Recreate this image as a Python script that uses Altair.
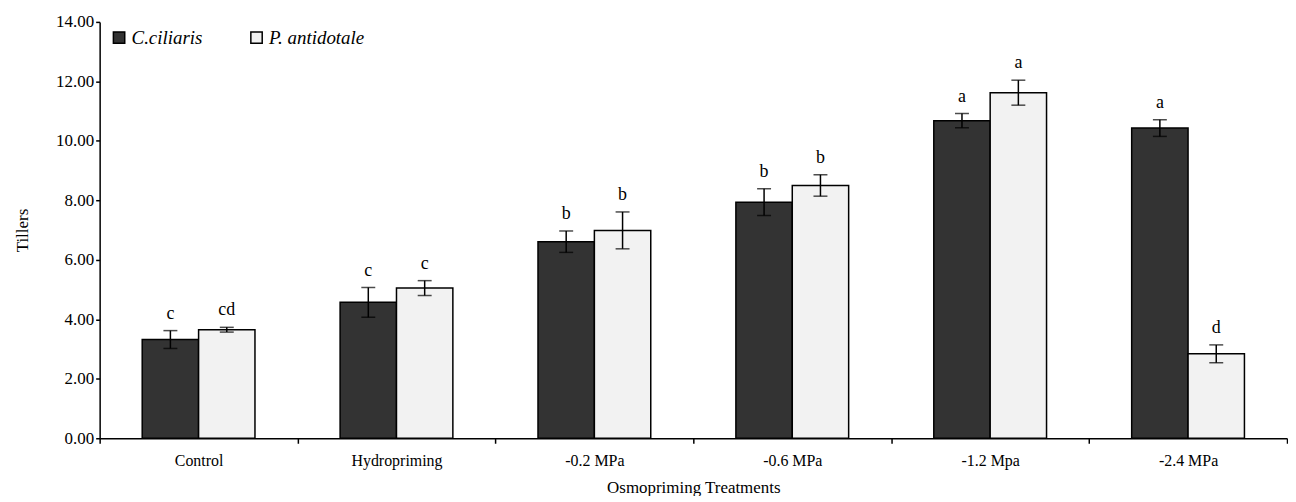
import altair as alt
import pandas as pd

treatments = ["Control", "Hydropriming", "-0.2 MPa", "-0.6 MPa", "-1.2 Mpa", "-2.4 MPa"]
species = ["C.ciliaris", "P. antidotale"]

cc_mean = [3.32, 4.57, 6.61, 7.94, 10.68, 10.43]
cc_err = [0.30, 0.50, 0.36, 0.45, 0.24, 0.28]
cc_letter = ["c", "c", "b", "b", "a", "a"]

pa_mean = [3.65, 5.05, 6.99, 8.50, 11.62, 2.84]
pa_err = [0.08, 0.25, 0.62, 0.36, 0.42, 0.30]
pa_letter = ["cd", "c", "b", "b", "a", "d"]

rows = []
for sp, means, errs, letters in [(species[0], cc_mean, cc_err, cc_letter),
                                 (species[1], pa_mean, pa_err, pa_letter)]:
    for t, m, e, l in zip(treatments, means, errs, letters):
        rows.append({"treatment": t, "species": sp, "mean": m,
                     "lo": m - e, "hi": m + e, "letter": l})
df = pd.DataFrame(rows)

FONT = "Liberation Serif"

x_enc = alt.X("treatment:N", sort=treatments,
              scale=alt.Scale(paddingInner=0, paddingOuter=0),
              axis=alt.Axis(title="Osmopriming Treatments", labelAngle=0,
                            tickBand="extent", tickSize=5, labelPadding=9,
                            titlePadding=11, titleFontSize=17))
xo = alt.XOffset("species:N", sort=species,
                 scale=alt.Scale(domain=species, paddingInner=0, paddingOuter=0.755))
y_scale = alt.Scale(domain=[0, 14], nice=False)

bars = alt.Chart(df).mark_bar(stroke="black", strokeWidth=1.5).encode(
    x=x_enc,
    xOffset=xo,
    y=alt.Y("mean:Q", scale=y_scale,
            axis=alt.Axis(title="Tillers", values=[0, 2, 4, 6, 8, 10, 12, 14],
                          format=".2f", tickSize=4, labelPadding=2,
                          titlePadding=24, grid=False, labelFontSize=17)),
    fill=alt.Fill("species:N", sort=species,
                  scale=alt.Scale(domain=species, range=["#333333", "#f2f2f2"]),
                  legend=alt.Legend(title=None, orient="none", legendX=10, legendY=6,
                                    direction="horizontal", symbolType="square",
                                    symbolSize=130, symbolStrokeColor="black",
                                    symbolStrokeWidth=1.5, labelFont=FONT,
                                    labelFontStyle="italic", labelFontSize=19,
                                    labelColor="black", columnPadding=44,
                                    labelOffset=3)),
)

err = alt.Chart(df).mark_rule(color="black", strokeWidth=1.5).encode(
    x=alt.X("treatment:N", sort=treatments),
    xOffset=xo,
    y=alt.Y("lo:Q", scale=y_scale),
    y2="hi:Q",
)

caps_hi = alt.Chart(df).mark_tick(color="black", thickness=1.5, size=14).encode(
    x=alt.X("treatment:N", sort=treatments),
    xOffset=xo,
    y=alt.Y("hi:Q", scale=y_scale),
)
caps_lo = alt.Chart(df).mark_tick(color="black", thickness=1.5, size=14).encode(
    x=alt.X("treatment:N", sort=treatments),
    xOffset=xo,
    y=alt.Y("lo:Q", scale=y_scale),
)

labels = alt.Chart(df).mark_text(font=FONT, fontSize=18, color="black",
                                 baseline="bottom", dy=-8).encode(
    x=alt.X("treatment:N", sort=treatments),
    xOffset=xo,
    y=alt.Y("hi:Q", scale=y_scale),
    text="letter:N",
)

chart = alt.layer(bars, err, caps_hi, caps_lo, labels).properties(
    width=1192, height=418,
    padding={"left": 5, "top": 4, "right": 0, "bottom": 0},
).configure_view(stroke=None).configure_axis(
    labelFont=FONT, titleFont=FONT, labelFontSize=16, titleFontSize=17,
    titleFontWeight="normal", labelColor="black", titleColor="black",
    domainColor="black", tickColor="black", domainWidth=1.5, tickWidth=1.5,
)

chart.save("out.html", embed_options={"renderer": "svg", "actions": False})
